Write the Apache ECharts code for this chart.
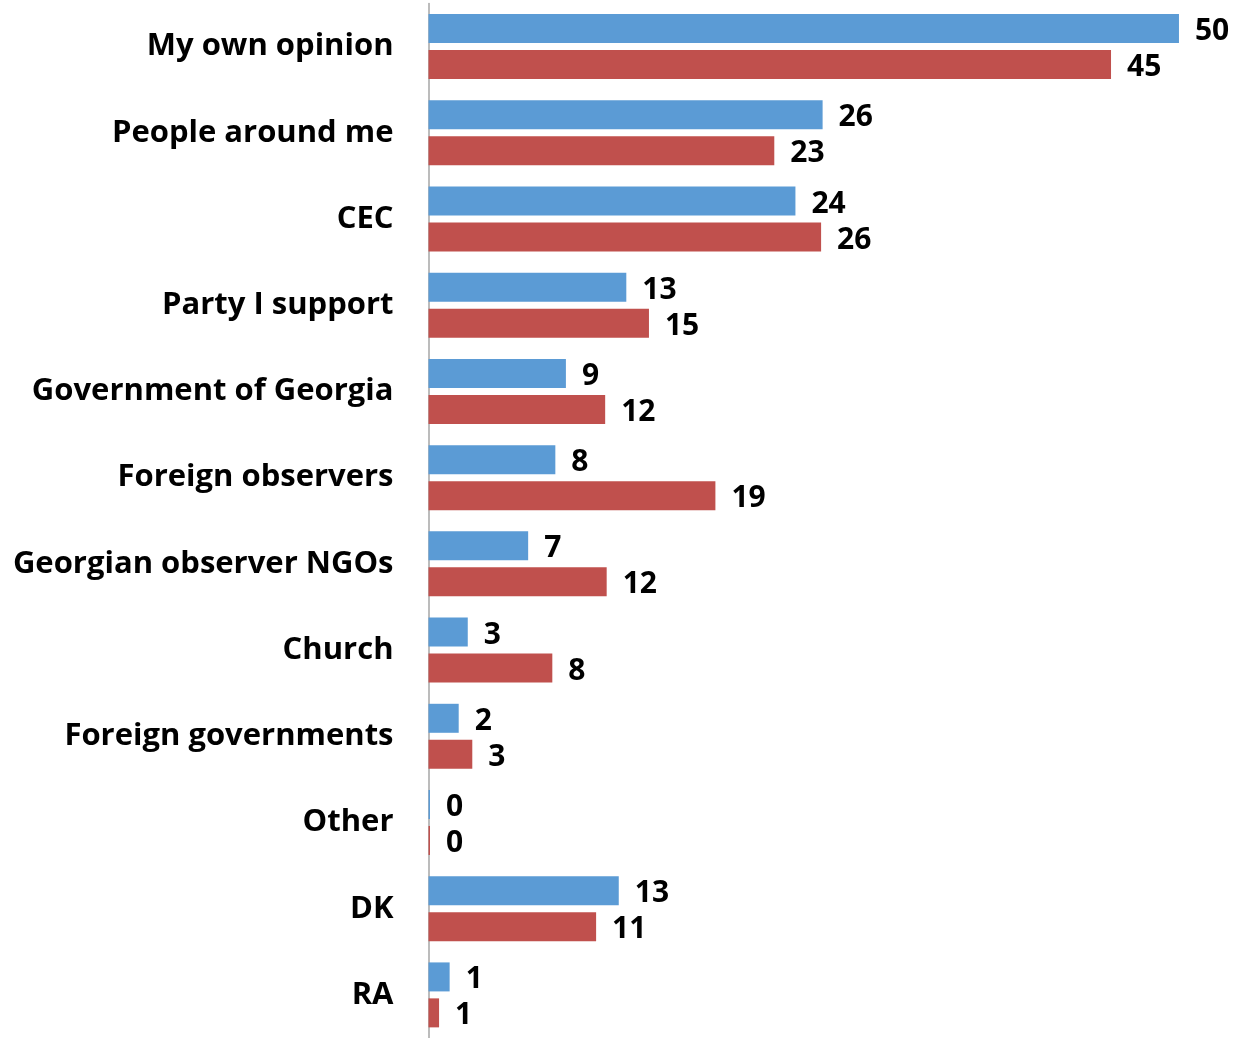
<!DOCTYPE html>
<html>
<head>
<meta charset="utf-8">
<script src="https://cdn.jsdelivr.net/npm/echarts@6/dist/echarts.min.js"></script>
<style>
html,body{margin:0;padding:0;background:#fff;}
#c{width:1235px;height:1038px;}
</style>
</head>
<body>
<div id="c"></div>
<script>
const categories = ["My own opinion","People around me","CEC","Party I support","Government of Georgia","Foreign observers","Georgian observer NGOs","Church","Foreign governments","Other","DK","RA"];
const blueValues = [49.7, 26.1, 24.3, 13.1, 9.1, 8.4, 6.6, 2.6, 2.0, 0.1, 12.6, 1.4];
const redValues = [45.2, 22.9, 26.0, 14.6, 11.7, 19.0, 11.8, 8.2, 2.9, 0.1, 11.1, 0.7];

const chart = echarts.init(document.getElementById('c'), null, {renderer:'canvas'});
const labelCfg = {
  show: true, position: 'right', distance: 16,
  color: '#000', fontFamily: 'Open Sans', fontWeight: 'bold', fontSize: 30,
  formatter: p => Math.round(p.value), offset: [0, 3]
};
chart.setOption({
  animation: false,
  grid: {left: 428.5, right: 51.5, top: 3.5, bottom: -3.5, containLabel: false},
  xAxis: {type: 'value', min: 0, max: 50, show: false},
  yAxis: {
    type: 'category', data: categories, inverse: true,
    axisLine: {show: true, lineStyle: {color: '#a6a6a6', width: 1.5}},
    axisTick: {show: false},
    axisLabel: {color: '#000', fontFamily: 'Open Sans', fontWeight: 'bold', fontSize: 31, margin: 35, padding: [4, 0, 0, 0]}
  },
  series: [
    {type: 'bar', name: 'blue', data: blueValues, barWidth: 29, barGap: '24%',
     itemStyle: {color: '#5b9bd5'}, label: labelCfg},
    {type: 'bar', name: 'red', data: redValues, barWidth: 29, barGap: '24%',
     itemStyle: {color: '#c0504d'}, label: labelCfg}
  ]
});
</script>
</body>
</html>
